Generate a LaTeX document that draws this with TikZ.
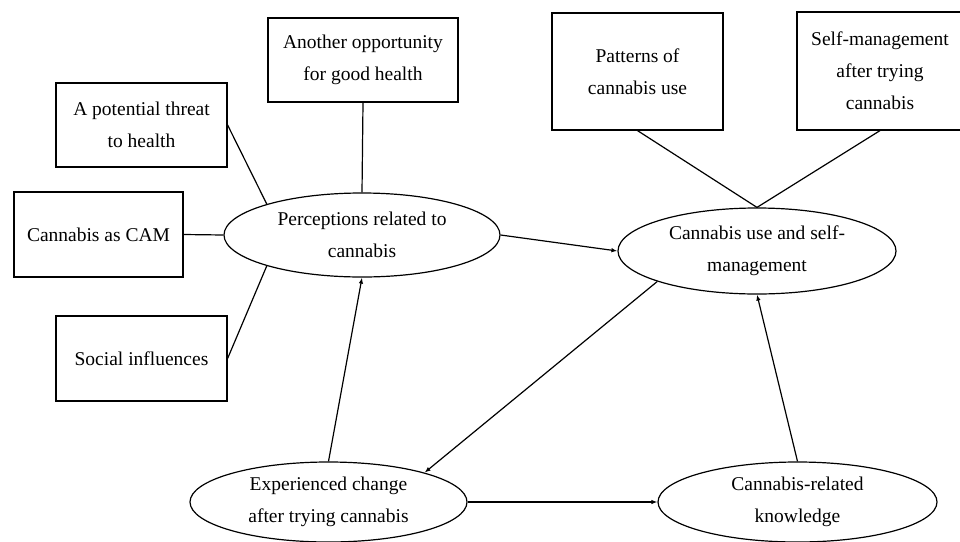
\documentclass[tikz,border=0pt]{standalone}
\usepackage{fontspec}
\setmainfont{Liberation Serif}
\usetikzlibrary{shapes.geometric,arrows.meta}
\tikzset{
  box/.style={draw, line width=1.2pt, rectangle, align=center, inner sep=0pt, font=\fontsize{19.5}{32}\selectfont},
  oval/.style={draw, line width=1.2pt, ellipse, align=center, inner sep=0pt, font=\fontsize{19.5}{32}\selectfont},
  link/.style={line width=1.2pt},
  arr/.style={line width=1.2pt, -{Latex[length=6pt,width=4.5pt]}}
}
\begin{document}
\begin{tikzpicture}[x=1pt,y=-1pt]
\useasboundingbox (0,0) rectangle (960,541);
\node[box, minimum width=190pt, minimum height=84pt] (opp) at (363,60) {Another opportunity\\for good health};
\node[box, minimum width=171pt, minimum height=84pt] (threat) at (141.5,125) {A potential threat\\to health};
\node[box, minimum width=169pt, minimum height=85pt] (cam) at (98.5,234.5) {Cannabis as CAM};
\node[box, minimum width=171pt, minimum height=85pt] (social) at (141.5,358.5) {Social influences};
\node[box, minimum width=171pt, minimum height=117pt] (pat) at (637.5,71.5) {Patterns of\\cannabis use};
\node[box, minimum width=166pt, minimum height=118pt] (self) at (880,71) {Self-management\\after trying\\cannabis};
\node[oval, minimum width=276pt, minimum height=84pt] (perc) at (362,235) {Perceptions related to\\cannabis};
\node[oval, minimum width=278pt, minimum height=86pt] (cuse) at (757,251) {Cannabis use and self-\\management};
\node[oval, minimum width=277pt, minimum height=80pt] (exp) at (328.5,502) {Experienced change\\after trying cannabis};
\node[oval, minimum width=279pt, minimum height=80pt] (know) at (797.5,502) {Cannabis-related\\knowledge};
\draw[link] (opp.south) -- (perc.north);
\draw[link] (threat.east) -- (perc.162);
\draw[link] (cam.east) -- (perc.west);
\draw[link] (social.east) -- (perc.198);
\draw[link] (pat.south) -- (cuse.north);
\draw[link] (self.south) -- (cuse.north);
\draw[arr] (perc.east) -- (cuse.west);
\draw[arr] (cuse.197) -- (exp.17);
\draw[arr] (exp.north) -- (perc.south);
\draw[arr] (exp.east) -- (know.west);
\draw[arr] (know.north) -- (cuse.south);
\end{tikzpicture}
\end{document}
